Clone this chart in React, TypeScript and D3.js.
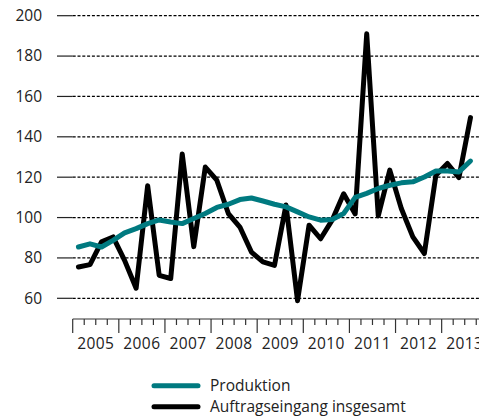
import React from "react";
import * as d3 from "d3";

const years = [2005, 2006, 2007, 2008, 2009, 2010, 2011, 2012, 2013];
const yTicks = [60, 80, 100, 120, 140, 160, 180, 200];
const production = [85.4, 87, 85.4, 88.7, 92.4, 94.5, 97, 98.8, 97.8, 97, 99.5, 102, 105, 106.6, 108.9, 109.7, 108.2, 106.6, 105.3, 102.8, 100.3, 98.7, 99, 102, 110, 112, 114.4, 116, 117.2, 117.7, 120.1, 123.1, 123.1, 122.6, 128];
const orders = [75.5, 76.7, 88, 90.4, 78.8, 65, 115.8, 71.4, 69.8, 131.5, 85.6, 125, 118.5, 102, 95.3, 82.9, 78, 76.3, 106.2, 58.8, 96.2, 89.5, 98.7, 111.8, 101.8, 191, 100.8, 123.5, 104.5, 90.4, 82.2, 121, 126.8, 119.8, 149.5];
const legendLabels = ["Produktion", "Auftragseingang insgesamt"];

const W = 479;
const H = 418;
const TEAL = "#007a80";
const FONT = "'Open Sans', 'Noto Sans', sans-serif";

export default function App() {
  const nQ = years.length * 4;
  const x = d3.scaleLinear().domain([0, nQ]).range([72.7, 72.7 + nQ * 11.53]);
  const y = d3.scaleLinear().domain([60, 200]).range([298.3, 15.7]);
  const line = d3
    .line<number>()
    .x((_, i) => x(i + 0.5))
    .y((d) => y(d));
  const qTicks = d3.range(0, nQ + 1);
  const axisY = 319;

  return (
    <svg
      width={W}
      height={H}
      style={{ position: "absolute", left: 0, top: 0, background: "#fff" }}
      fontFamily={FONT}
    >
      {yTicks.map((t) => (
        <g key={t}>
          <line x1={57} x2={72.7} y1={y(t)} y2={y(t)} stroke="#222" strokeWidth={1.2} />
          <line
            x1={72.7}
            x2={W}
            y1={y(t)}
            y2={y(t)}
            stroke="#000"
            strokeWidth={1.2}
            strokeDasharray="3,1.8"
          />
          <text x={42} y={y(t) + 5.4} textAnchor="end" fontSize={15.5} fill="#222">
            {t}
          </text>
        </g>
      ))}
      <line x1={x(0)} x2={W} y1={axisY} y2={axisY} stroke="#333" strokeWidth={1.2} />
      {qTicks.map((q) => (
        <line
          key={q}
          x1={x(q)}
          x2={x(q)}
          y1={axisY}
          y2={q % 4 === 0 ? axisY + 14 : axisY + 6}
          stroke="#333"
          strokeWidth={1.2}
        />
      ))}
      {years.map((yr, i) => (
        <text
          key={yr}
          x={x(i * 4 + 2)}
          y={349}
          textAnchor="middle"
          fontSize={15.5}
          letterSpacing={0.4}
          fill="#222"
        >
          {yr}
        </text>
      ))}
      <path
        d={line(orders) || ""}
        fill="none"
        stroke="#000"
        strokeWidth={5}
        strokeLinejoin="round"
        strokeLinecap="round"
      />
      <path
        d={line(production) || ""}
        fill="none"
        stroke={TEAL}
        strokeWidth={5}
        strokeLinejoin="round"
        strokeLinecap="round"
      />
      <g>
        <line x1={154} x2={198} y1={385.7} y2={385.7} stroke={TEAL} strokeWidth={5} strokeLinecap="round" />
        <text x={210} y={391} fontSize={15.5} fill="#222">
          {legendLabels[0]}
        </text>
        <line x1={154} x2={198} y1={406.7} y2={406.7} stroke="#000" strokeWidth={5} strokeLinecap="round" />
        <text x={210} y={412} fontSize={15.5} fill="#222">
          {legendLabels[1]}
        </text>
      </g>
    </svg>
  );
}
